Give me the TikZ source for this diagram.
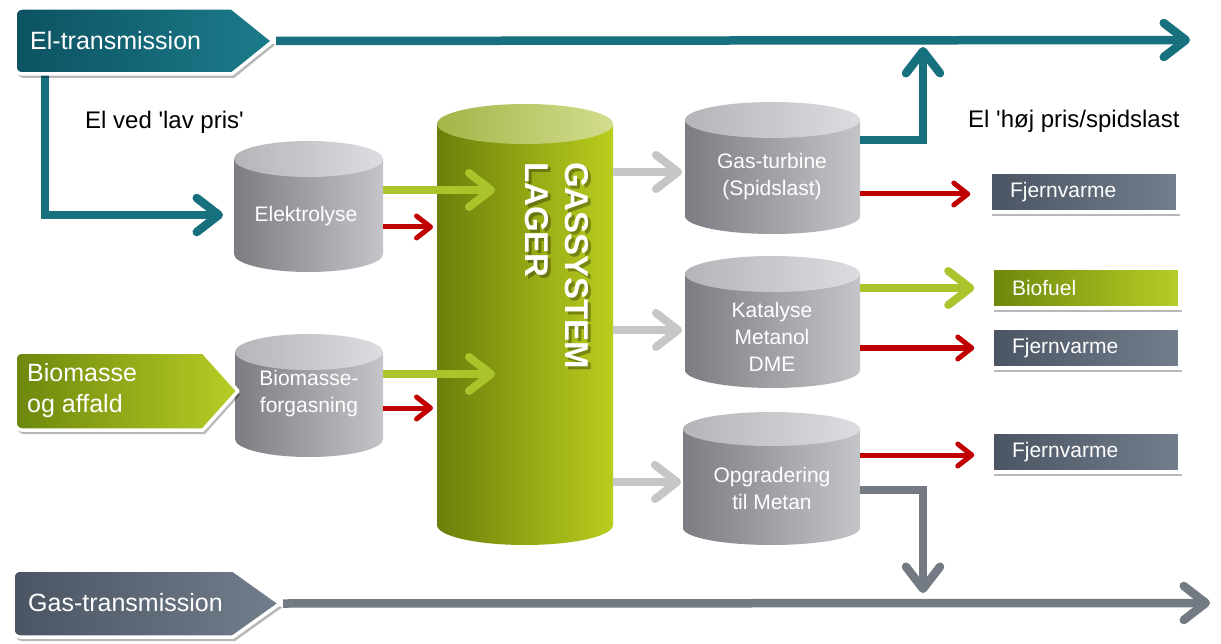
\documentclass[tikz,border=0pt]{standalone}
\usepackage{fontspec}
\setmainfont{Liberation Sans}
\usetikzlibrary{arrows.meta,shadows,calc}
\pgfdeclarelayer{bglines}
\pgfsetlayers{bglines,main}
\definecolor{tealc}{HTML}{16707E}
\definecolor{tealL}{HTML}{0C5262}
\definecolor{tealR}{HTML}{1C7C8B}
\definecolor{grnc}{HTML}{ABC42C}
\definecolor{grnL}{HTML}{6C880C}
\definecolor{grnR}{HTML}{B9CD26}
\definecolor{redc}{HTML}{C00000}
\definecolor{lgray}{HTML}{C6C6C6}
\definecolor{dgray}{HTML}{737A83}
\definecolor{slateL}{HTML}{4A5462}
\definecolor{slateR}{HTML}{737E8C}
\definecolor{cylL}{HTML}{7C7D82}
\definecolor{cylR}{HTML}{C4C5C9}
\definecolor{cyltL}{HTML}{B4B5B9}
\definecolor{cyltR}{HTML}{DCDDE0}
\definecolor{lagL}{HTML}{6C7E0A}
\definecolor{lagR}{HTML}{BACD1E}
\definecolor{lagtL}{HTML}{A4B548}
\definecolor{lagtR}{HTML}{D3DD8E}
\newcommand\mycyl[8]{%
 \pgfmathsetmacro\mycx{(#2+#3)/2}%
 \pgfmathsetmacro\myrx{(#3-#2)/2}%
 \pgfmathsetmacro\myyt{#4+#6}%
 \pgfmathsetmacro\myyb{#5-#6}%
 \pgfmathsetmacro\mycy{(#4+#5)/2}%
 \pgfmathsetmacro\myw{#3-#2}%
 \pgfmathsetmacro\myh{#5-#4}%
 \path[#7] (#2,\myyt) -- (#2,\myyb) arc[start angle=180,end angle=360,x radius=\myrx pt,y radius=#6pt] -- (#3,\myyt) -- cycle;
 \path[#8] (\mycx,\myyt) ellipse[x radius=\myrx pt,y radius=#6pt];
 \node[inner sep=0pt,outer sep=0pt,minimum width=\myw pt,minimum height=\myh pt] (#1) at (\mycx,\mycy) {};
}
% #1 name, #2 x1, #3 xs (start of slant), #4 xt (tip), #5 y1, #6 y2, #7 style
\newcommand\mypent[7]{%
 \pgfmathsetmacro\mypm{(#5+#6)/2}%
 \pgfmathsetmacro\mypcx{(#2+#4)/2}%
 \pgfmathsetmacro\mypw{#4-#2}%
 \pgfmathsetmacro\myph{#6-#5}%
 \path[#7] (#4,\mypm) -- (#3,#5) [rounded corners=7pt] -- (#2,#5) -- (#2,#6) [sharp corners] -- (#3,#6) -- cycle;
 \node[inner sep=0pt,outer sep=0pt,minimum width=\mypw pt,minimum height=\myph pt] (#1) at (\mypcx,\mypm) {};
 \coordinate (#1tip) at (#4+3,\mypm);
}
\tikzset{
 bigtip/.style={-{Straight Barb[length=22pt,width=34pt,round]}},
 smalltip/.style={-{Straight Barb[length=14pt,width=22pt,round]}},
 tealln/.style={draw=tealc,line width=8.5pt,bigtip},
 grnln/.style={draw=grnc,line width=8pt,bigtip},
 redln/.style={draw=redc,line width=5pt,smalltip},
 lgln/.style={draw=lgray,line width=8pt,bigtip},
 dgln/.style={draw=dgray,line width=8.5pt,bigtip},
 cylbody/.style={left color=cylL,right color=cylR},
 cyltop/.style={left color=cyltL,right color=cyltR},
 ctext/.style={text=white,align=center,font=\fontsize{21}{27}\selectfont,inner sep=0pt},
 btext/.style={text=white,font=\fontsize{25}{31}\selectfont,inner sep=0pt,anchor=west,align=left},
 ltext/.style={text=black,font=\fontsize{24}{29}\selectfont,inner sep=0pt,anchor=west},
 shad/.style={drop shadow={shadow xshift=2pt,shadow yshift=-4pt,opacity=0.28,fill=black}},
 pent/.style={draw=white,line width=3.5pt,line join=round,shad},
 obox/.style={rectangle,draw=white,line width=3.5pt,shad,text=white,font=\fontsize{21}{25}\selectfont,
   minimum height=40pt,text width=148pt,inner xsep=20pt,align=left},
}
\begin{document}
\begin{tikzpicture}[x=1pt,y=-1pt]
\useasboundingbox (0,0) rectangle (1221,644);
\begin{pgfonlayer}{bglines}
\fill[white] (0,0) rectangle (1221,644);
\end{pgfonlayer}

% cylinders
\mycyl{elek}{234}{383}{141}{272}{18}{cylbody}{cyltop}
\mycyl{biof}{235}{383}{334}{457}{18}{cylbody}{cyltop}
\mycyl{lager}{437}{613}{104}{545}{20}{left color=lagL,right color=lagR}{left color=lagtL,right color=lagtR}
\mycyl{gt}{685}{860}{102}{234}{18}{cylbody}{cyltop}
\mycyl{kat}{685}{860}{256}{388}{18}{cylbody}{cyltop}
\mycyl{opg}{683}{860}{412}{545}{17}{cylbody}{cyltop}

% cylinder texts
\node[ctext] (elekT) at (306,216) {Elektrolyse};
\node[ctext] (biofT) at (309,394) {Biomasse-\\forgasning};
\node[ctext] (gtT) at (772,177) {Gas-turbine\\(Spidslast)};
\node[ctext] (katT) at (772,337) {Katalyse\\Metanol\\DME};
\node[ctext] (opgT) at (772,488) {Opgradering\\til Metan};
\node[rotate=-90,anchor=north west,inner sep=0pt,align=left,text=black,opacity=0.3,
  font=\fontsize{33}{40}\selectfont\bfseries] (lagS) at (592,165) {GASSYSTEM\\LAGER};
\node[rotate=-90,anchor=north west,inner sep=0pt,align=left,text=white,
  font=\fontsize{33}{40}\selectfont\bfseries] (lagT) at (589,162) {GASSYSTEM\\LAGER};

% end coordinates
\coordinate (elend) at (1190,40);
\coordinate (gasend) at (1210,603);
\coordinate (upend) at (923,47);
\coordinate (downend) at (923,593);

% source boxes
\mypent{eltr}{15}{232}{273}{8}{74}{pent,left color=tealL,right color=tealR}
\mypent{bio}{15}{203}{238}{352}{430}{pent,left color=grnL,right color=grnR}
\mypent{gastr}{13}{233}{280}{570}{637}{pent,left color=slateL,right color=slateR}

\begin{pgfonlayer}{bglines}
\draw[tealln] (eltrtip) -- (elend);
\draw[dgln] (gastrtip) -- (gasend);
\draw[tealln,line join=miter] (45,0 |- eltr.south) -- (45,215) -- ($(elek.west |- 0,215)+(-11,0)$);
\end{pgfonlayer}

\node[btext] (eltrT) at (30,41) {El-transmission};
\node[btext] (bioT) at (27,391) {Biomasse\\og affald};
\node[btext] (gastrT) at (28,603) {Gas-transmission};

% product boxes
\node[obox,left color=slateL,right color=slateR] (f1) at (1084,192) {Fjernvarme};
\node[obox,left color=grnL,right color=grnR] (bf) at (1086,288) {Biofuel};
\node[obox,left color=slateL,right color=slateR] (f2) at (1086,348) {Fjernvarme};
\node[obox,left color=slateL,right color=slateR] (f3) at (1086,452) {Fjernvarme};

% labels
\node[ltext] (lav) at (85,122) {El ved \textquotesingle lav pris\textquotesingle};
\node[ltext] (hoj) at (968,121) {El \textquotesingle høj pris/spidslast};

% connectors
\draw[grnln] (elek.east |- 0,190) -- ($(lager.west |- 0,190)+(58,0)$);
\draw[redln] (elek.east |- 0,227) -- ($(lager.west |- 0,227)+(-4,0)$);
\draw[grnln] (biof.east |- 0,374) -- ($(lager.west |- 0,374)+(58,0)$);
\draw[redln] (biof.east |- 0,408) -- ($(lager.west |- 0,408)+(-4,0)$);
\draw[lgln] (lager.east |- 0,172) -- ($(gt.west |- 0,172)+(-3,0)$);
\draw[lgln] (lager.east |- 0,330) -- ($(kat.west |- 0,330)+(-3,0)$);
\draw[lgln] (lager.east |- 0,482) -- ($(opg.west |- 0,482)+(-2,0)$);
\draw[tealln,line join=miter] (gt.east |- 0,140) -| (upend);
\draw[redln] (gt.east |- 0,194) -- ($(f1.west |- 0,194)+(-18,0)$);
\draw[grnln] (kat.east |- bf) -- ($(bf.west)+(-16,0)$);
\draw[redln] (kat.east |- f2) -- ($(f2.west)+(-16,0)$);
\draw[redln] (opg.east |- 0,455) -- ($(f3.west |- 0,455)+(-16,0)$);
\draw[dgln,line join=miter] (opg.east |- 0,490) -| (downend);
\end{tikzpicture}
\end{document}
